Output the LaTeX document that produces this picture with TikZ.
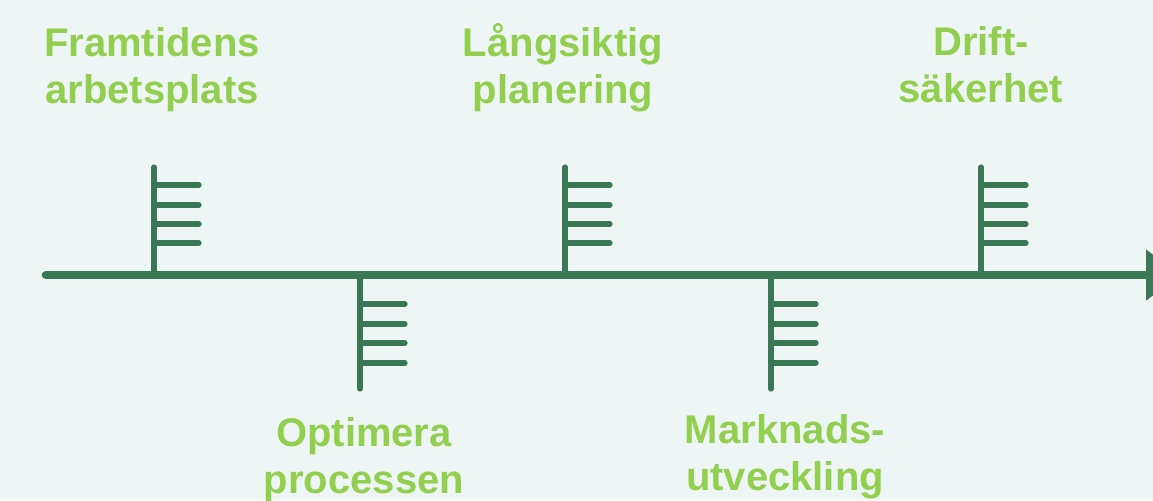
\documentclass[tikz,border=0pt]{standalone}
\usepackage{fontspec}
\setmainfont{Liberation Sans}
\usetikzlibrary{arrows.meta,positioning}
\definecolor{bgmint}{HTML}{EEF6F5}
\definecolor{darkgreen}{HTML}{3A7855}
\definecolor{limegreen}{HTML}{92CF4F}
\tikzset{
axisline/.style={
  line width=4.3pt,
  draw=darkgreen,
  line cap=round,
  -{Triangle[length=17pt,width=24.5pt]}
  },
markstem/.style={
  line width=2.6pt,
  draw=darkgreen,
  line cap=round
  },
marktick/.style={
  line width=2.6pt,
  draw=darkgreen,
  line cap=round
  },
lbl/.style={
  anchor=base,
  align=center,
  inner sep=0pt,
  text=limegreen,
  font=\fontsize{20}{23.5}\selectfont\bfseries
  }
}

\begin{document}
\begin{tikzpicture}[x=0.5pt,y=-0.5pt,>=latex]
\fill[bgmint] (0,0) rectangle (1153,500);
\useasboundingbox (0,0) rectangle (1153,500);
\clip (0,0) rectangle (1153,500);

% time axis
\coordinate(start) at (46,275);
\coordinate(end) at (1180,275);
\draw[axisline] (start) -- (end);

% upper markers
\begin{scope}
\coordinate(bfoot) at (154,275);
\coordinate(btop) at (154,167);
\draw[markstem] (bfoot) -- (btop);
\foreach \y in {185,205,224,243}
  \draw[marktick] (154,\y) -- ++(45,0);
\node[lbl] (arbetsplats) at (152,103) {Framtidens\\arbetsplats};
\end{scope}

\begin{scope}
\coordinate(bfoot) at (565,275);
\coordinate(btop) at (565,167);
\draw[markstem] (bfoot) -- (btop);
\foreach \y in {185,205,224,243}
  \draw[marktick] (565,\y) -- ++(45,0);
\node[lbl] (planering) at (563,103) {Långsiktig\\planering};
\end{scope}

\begin{scope}
\coordinate(bfoot) at (981,275);
\coordinate(btop) at (981,167);
\draw[markstem] (bfoot) -- (btop);
\foreach \y in {185,205,224,243}
  \draw[marktick] (981,\y) -- ++(45,0);
\node[lbl] (driftsakerhet) at (981,102) {Drift-\\säkerhet};
\end{scope}

% lower markers
\begin{scope}
\coordinate(bfoot) at (360,275);
\coordinate(bbottom) at (360,389);
\draw[markstem] (bfoot) -- (bbottom);
\foreach \y in {304,324,343,363}
  \draw[marktick] (360,\y) -- ++(45,0);
\node[lbl] (processen) at (364,493) {Optimera\\processen};
\end{scope}

\begin{scope}
\coordinate(bfoot) at (771,275);
\coordinate(bbottom) at (771,389);
\draw[markstem] (bfoot) -- (bbottom);
\foreach \y in {304,324,343,363}
  \draw[marktick] (771,\y) -- ++(45,0);
\node[lbl] (utveckling) at (785,490) {Marknads-\\utveckling};
\end{scope}

\end{tikzpicture}
\end{document}
